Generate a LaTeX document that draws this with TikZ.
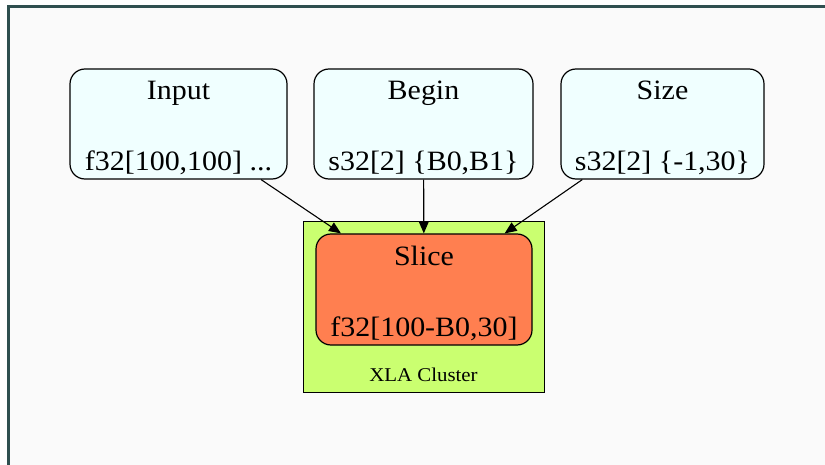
\documentclass[tikz,border=0pt]{standalone}
\usepackage{fontspec}
\setmainfont{Liberation Serif}[FakeStretch=1.07]
\usetikzlibrary{arrows.meta}
\definecolor{framecol}{HTML}{2F4F4F}
\definecolor{pagebg}{HTML}{FAFAFA}
\definecolor{azure}{HTML}{F0FFFF}
\definecolor{coral}{HTML}{FF7F50}
\definecolor{clusterfill}{HTML}{CAFF70}
% taller first line so the two-line labels sit a little lower in their boxes
\newcommand{\toprow}{\rule{0pt}{27pt}}
\tikzset{
  opbox/.style={draw=black, line width=1.2pt, rounded corners=15pt, align=center,
    inner sep=0pt, font=\fontsize{28}{71}\selectfont},
  inbox/.style={opbox, fill=azure},
  slicebox/.style={opbox, fill=coral},
  clusterbox/.style={draw=black, line width=1pt, fill=clusterfill},
  flow/.style={line width=1.1pt, -{Triangle[length=12pt,width=10pt]}},
}
\begin{document}
\begin{tikzpicture}[x=1pt,y=-1pt]
\useasboundingbox (0,0) rectangle (825,465);
\fill[white] (0,0) rectangle (825,465);
\clip (0,0) rectangle (825,465);
% outer frame, running off the right and bottom edges
\draw[framecol, line width=3pt, fill=pagebg] (8,7) rectangle (845,490);

% cluster
\node[clusterbox, minimum width=241pt, minimum height=170pt] (cluster) at (423.5,307) {};
\node[font=\fontsize{19.5}{20}\selectfont, anchor=base] (clusterlabel) at (423.5,381) {XLA Cluster};

% operation nodes
\node[inbox, minimum width=217pt, minimum height=110pt] (input) at (178.5,124)
  {\toprow Input\\f32[100,100] ...};
\node[inbox, minimum width=219pt, minimum height=110pt] (begin) at (423.5,124)
  {\toprow Begin\\s32[2] \{B0,B1\}};
\node[inbox, minimum width=203pt, minimum height=110pt] (size) at (662.5,124)
  {\toprow Size\\s32[2] \{-1,30\}};
\node[slicebox, minimum width=216pt, minimum height=111pt] (slice) at (424,289.5)
  {\toprow Slice\\f32[100-B0,30]};

% edges
\draw[flow] (input) -- (slice);
\draw[flow] (begin) -- (slice);
\draw[flow] (size) -- (slice);
\end{tikzpicture}
\end{document}
